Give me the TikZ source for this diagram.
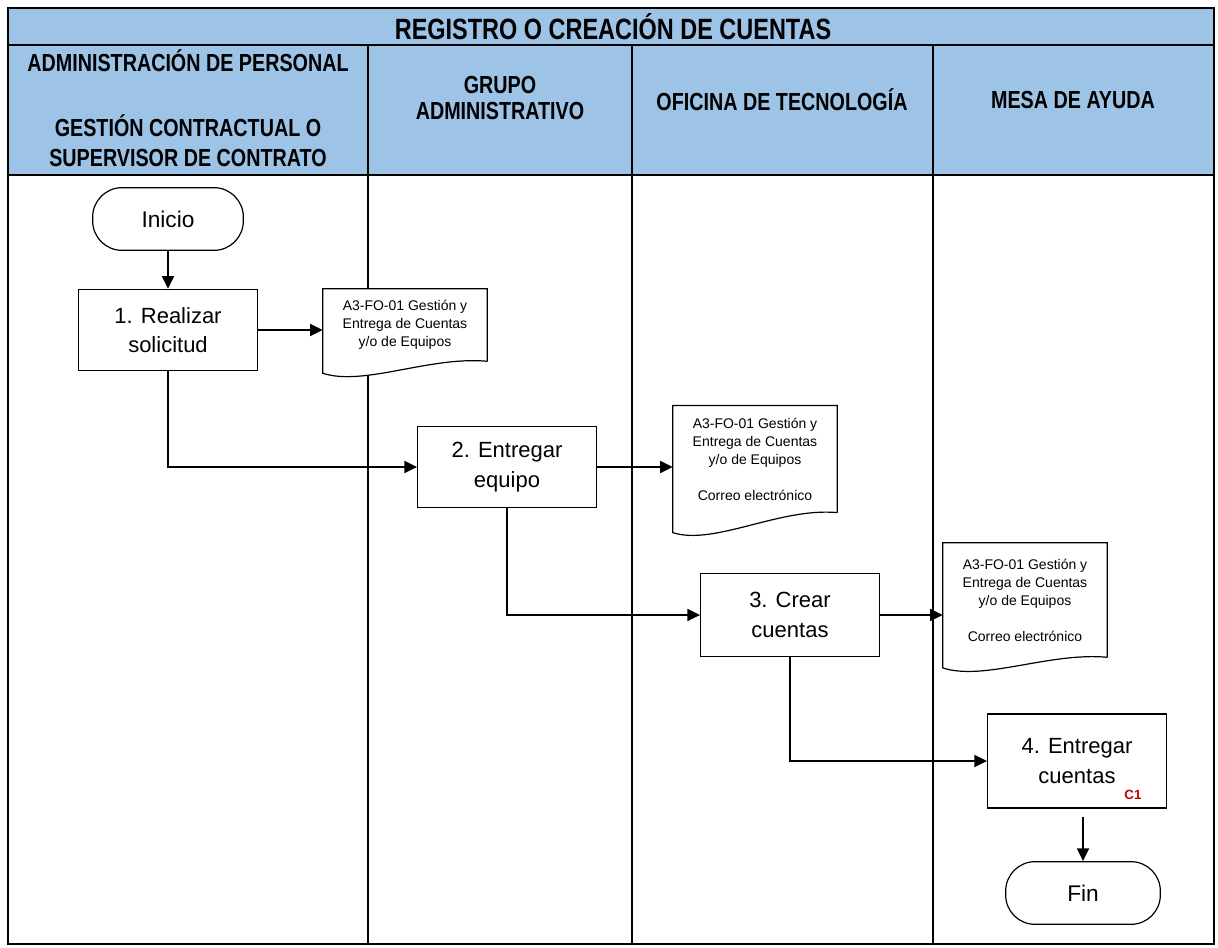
\documentclass[tikz,border=0pt]{standalone}
\usepackage{fontspec}
\setmainfont{Liberation Sans}
\newfontfamily\narrowfont[FakeStretch=0.8]{Liberation Sans}
\usetikzlibrary{calc,arrows.meta}
\definecolor{headblue}{RGB}{157,195,230}
\definecolor{markred}{RGB}{200,0,0}
% wavy foot of a document symbol round a node; #2 = drop of the left corner
\newcommand{\docline}[2]{%
  \fill[white] ([yshift=2pt]#1.south east) -- ([yshift=2pt]#1.south west) -- ([yshift=-#2]#1.south west) .. controls ([yshift=-#2-10pt]$(#1.south west)!0.25!(#1.south east)$) and ([yshift=4pt]$(#1.south west)!0.65!(#1.south east)$) .. (#1.south east);
  \draw[line width=0.9pt] (#1.south east) -- (#1.north east) -- (#1.north west) -- ([yshift=-#2]#1.south west) .. controls ([yshift=-#2-10pt]$(#1.south west)!0.25!(#1.south east)$) and ([yshift=4pt]$(#1.south west)!0.65!(#1.south east)$) .. (#1.south east);}

\begin{document}
\begin{tikzpicture}[x=0.75pt, y=-0.75pt, >={Triangle[length=9.5pt,width=9pt]},
    actbox/.style={draw, fill=white, line width=0.9pt, minimum width=134pt, minimum height=61pt, align=center, font=\fontsize{16.5}{22}\selectfont},
    term/.style={draw, fill=white, line width=0.9pt, rounded corners=22pt, minimum width=113pt, minimum height=47pt, font=\fontsize{17}{22}\selectfont},
    docu/.style={fill=white, minimum width=123pt, inner sep=0pt, align=center, font=\fontsize{10.5}{13.5}\selectfont},
    lanehead/.style={align=center, font=\narrowfont\bfseries\fontsize{18.5}{19}\selectfont},
    flow/.style={->, line width=1.3pt}]
    \useasboundingbox (0,0) rectangle (1218,947);
    % header and lanes
    \fill[headblue] (8,8) rectangle (1214,175);
    \draw[line width=1.3pt] (8,8) rectangle (1214,944);
    \draw[line width=1.3pt] (8,45) -- (1214,45);
    \draw[line width=1.3pt] (8,175) -- (1214,175);
    \foreach \x in {368,632,933}
        \draw[line width=1.3pt] (\x,45) -- (\x,944);
    \draw (613,27) node (title) [font=\narrowfont\bfseries\fontsize{22}{24}\selectfont] {REGISTRO O CREACIÓN DE CUENTAS};
    \draw (188,108) node (lane1) [lanehead] {ADMINISTRACIÓN DE PERSONAL\\[30pt]GESTIÓN CONTRACTUAL O\\[3.5pt]SUPERVISOR DE CONTRATO};
    \draw (500,98) node (lane2) [lanehead] {GRUPO\\ADMINISTRATIVO};
    \draw (782,100) node (lane3) [lanehead] {OFICINA DE TECNOLOGÍA};
    \draw (1073,100) node (lane4) [lanehead] {MESA DE AYUDA};
    % steps
    \draw (168,219) node (inicio) [term] {Inicio};
    \draw (168,330) node (realizar) [actbox] {1. Realizar\\solicitud};
    \draw (405,325) node (doc1) [docu, minimum height=54pt] {A3-FO-01 Gestión y\\Entrega de Cuentas\\y/o de Equipos};
    \draw (507,467) node (entregar) [actbox] {2. Entregar\\equipo};
    \draw (755,459) node (doc2) [docu, minimum height=80pt] {A3-FO-01 Gestión y\\Entrega de Cuentas\\y/o de Equipos\\[13.5pt]Correo electrónico};
    \draw (790,615) node (crear) [actbox, minimum height=62pt] {3. Crear\\cuentas};
    \draw (1025,600) node (doc3) [docu, minimum height=85.5pt] {A3-FO-01 Gestión y\\Entrega de Cuentas\\y/o de Equipos\\[13.5pt]Correo electrónico};
    \draw (1077,761) node (cuentas) [actbox, minimum height=70.5pt] {4. Entregar\\cuentas};
    \draw (1133,795) node (c1) [text=markred, font=\bfseries\fontsize{10}{11}\selectfont] {C1};
    \draw (1083,893) node (fin) [term, minimum width=116pt] {Fin};
    \docline{doc1}{9pt}
    \docline{doc2}{15pt}
    \docline{doc3}{8pt}
    % connectors
    \draw [flow] (inicio) -- (realizar);
    \draw [flow] (realizar.east) -- (realizar.east -| doc1.west);
    \draw [flow] (realizar.south) |- (entregar.west);
    \draw [flow] (entregar.east) -- (entregar.east -| doc2.west);
    \draw [flow] (entregar.south) |- (crear.west);
    \draw [flow] (crear.east) -- (crear.east -| doc3.west);
    \draw [flow] (crear.south) |- (cuentas.west);
    \draw [flow, shorten <=6pt] (cuentas.south -| fin.north) -- (fin.north);
\end{tikzpicture}
\end{document}
